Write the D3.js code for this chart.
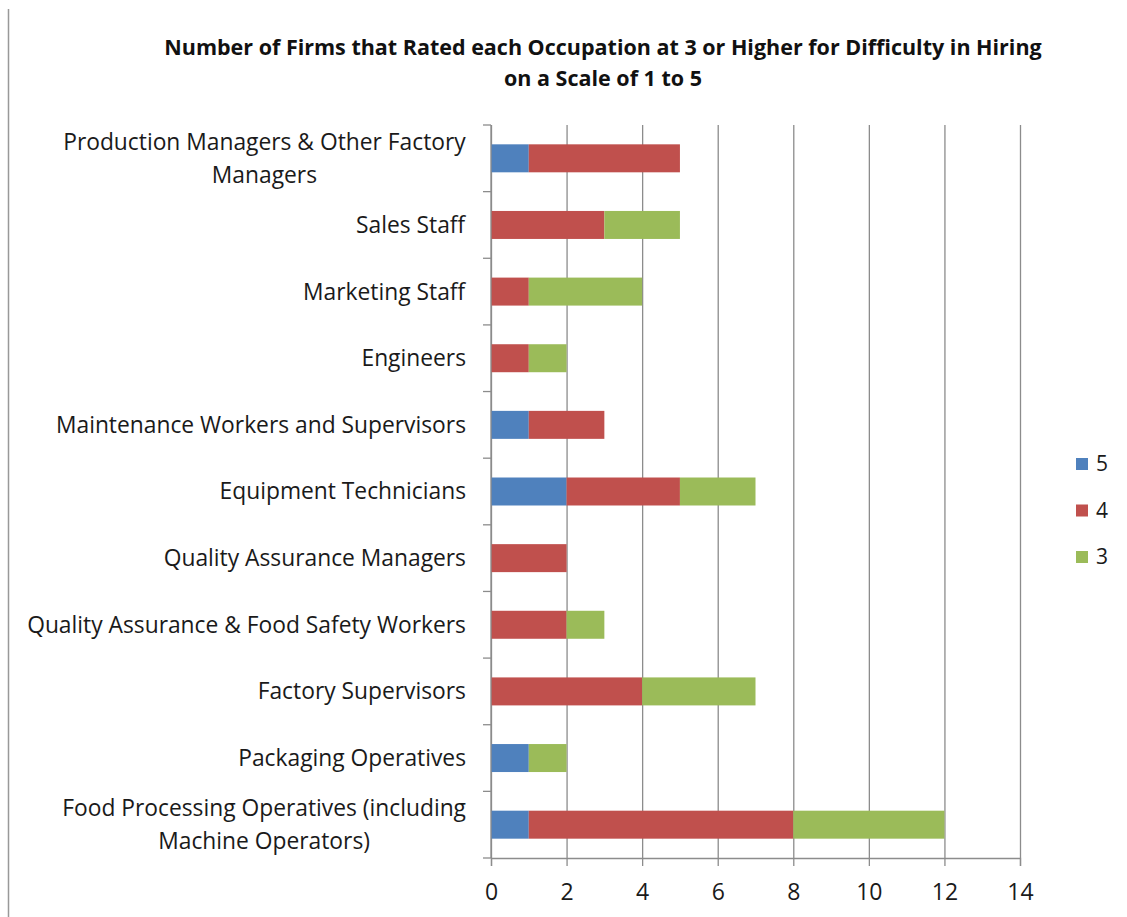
<!DOCTYPE html>
<html lang="en">
<head>
  <meta charset="UTF-8">
  <title>Difficulty in Hiring</title>
  <script src="https://d3js.org/d3.v7.min.js"></script>
  <style>
    body { margin: 0; background: #fff; font-family: 'Open Sans', sans-serif; }
    .grid line { stroke: #8c8c8c; stroke-width: 1.3; }
    .grid path { display: none; }
    .axis path, .axis line { stroke: #8c8c8c; stroke-width: 1.3; }
    .axis text { fill: #1a1a1a; font-size: 23px; font-family: 'Open Sans', sans-serif; }
  </style>
</head>
<body>
  <svg width="1127" height="917"></svg>
  <script>
    const categories = [
      ['Production Managers & Other Factory', 'Managers'],
      ['Sales Staff'],
      ['Marketing Staff'],
      ['Engineers'],
      ['Maintenance Workers and Supervisors'],
      ['Equipment Technicians'],
      ['Quality Assurance Managers'],
      ['Quality Assurance & Food Safety Workers'],
      ['Factory Supervisors'],
      ['Packaging Operatives'],
      ['Food Processing Operatives (including', 'Machine Operators)']
    ];
    const seriesNames = ['5', '4', '3'];
    const rating5 = [1, 0, 0, 0, 1, 2, 0, 0, 0, 1, 1];
    const rating4 = [4, 3, 1, 1, 2, 3, 2, 2, 4, 0, 7];
    const rating3 = [0, 2, 3, 1, 0, 2, 0, 1, 3, 1, 4];
    const xTicks = [0, 2, 4, 6, 8, 10, 12, 14];
    const colors = ['#4f81bd', '#c0504d', '#9bbb59'];

    const svg = d3.select('svg');
    const margin = { top: 125, left: 491, right: 107, bottom: 59 };
    const width = 1127 - margin.left - margin.right;
    const height = 917 - margin.top - margin.bottom;

    // left frame line
    svg.append('line')
      .attr('x1', 8.5).attr('x2', 8.5).attr('y1', 9).attr('y2', 917)
      .attr('stroke', '#999').attr('stroke-width', 1.5);

    // title
    const title = svg.append('text')
      .attr('x', 603).attr('y', 55)
      .attr('text-anchor', 'middle')
      .style('font-weight', 'bold').style('font-size', '21.5px').style('fill', '#111');
    title.append('tspan').attr('x', 603).text('Number of Firms that Rated each Occupation at 3 or Higher for Difficulty in Hiring');
    title.append('tspan').attr('x', 603).attr('dy', 31).text('on a Scale of 1 to 5');

    const g = svg.append('g').attr('transform', `translate(${margin.left},${margin.top})`);

    const x = d3.scaleLinear().domain([0, 14]).range([0, width]);
    const y = d3.scaleBand()
      .domain(d3.range(categories.length))
      .range([0, height])
      .paddingInner(0.58).paddingOuter(0.29);

    // vertical gridlines
    g.append('g').attr('class', 'grid')
      .call(d3.axisTop(x).tickValues(xTicks).tickSize(-height).tickFormat(''));

    // stacked data
    const rows = categories.map((c, i) => ({ i: i, '5': rating5[i], '4': rating4[i], '3': rating3[i] }));
    const stack = d3.stack().keys(seriesNames)(rows);

    g.selectAll('.series')
      .data(stack)
      .enter().append('g')
      .attr('fill', (d, k) => colors[k])
      .selectAll('rect')
      .data(d => d)
      .enter().append('rect')
      .attr('x', d => x(d[0]))
      .attr('y', d => y(d.data.i))
      .attr('width', d => x(d[1]) - x(d[0]))
      .attr('height', y.bandwidth());

    // x axis
    g.append('g').attr('class', 'axis')
      .attr('transform', `translate(0,${height})`)
      .call(d3.axisBottom(x).tickValues(xTicks).tickSize(8).tickSizeOuter(8).tickPadding(18));

    // y axis line with ticks at category boundaries
    const yAxis = g.append('g').attr('class', 'axis');
    yAxis.append('line').attr('x1', 0).attr('x2', 0).attr('y1', 0).attr('y2', height);
    const bounds = d3.range(categories.length + 1).map(k => k * y.step());
    yAxis.selectAll('.tk')
      .data(bounds)
      .enter().append('line')
      .attr('x1', -8).attr('x2', 0)
      .attr('y1', d => d).attr('y2', d => d);

    // category labels
    const labelX = -25;
    categories.forEach((lines, i) => {
      const cy = y(i) + y.bandwidth() / 2;
      const t = g.append('text')
        .attr('text-anchor', 'middle')
        .style('font-size', '22.8px').style('fill', '#1a1a1a');
      lines.forEach((line, j) => {
        t.append('tspan').attr('x', 0).attr('y', cy + (j - (lines.length - 1) / 2) * 33).attr('dy', '0.35em').text(line);
      });
      // right align block, center lines within it
      const w = t.node().getBBox().width;
      t.attr('transform', `translate(${labelX - w / 2},0)`);
    });

    // legend
    const legend = svg.append('g').attr('transform', 'translate(1076,464)');
    seriesNames.forEach((s, k) => {
      const row = legend.append('g').attr('transform', `translate(0,${k * 46.5})`);
      row.append('rect').attr('x', 0).attr('y', -6).attr('width', 12).attr('height', 12).attr('fill', colors[k]);
      row.append('text').attr('x', 20).attr('y', 0).attr('dy', '0.35em')
        .style('font-size', '21px').style('fill', '#1a1a1a').text(s);
    });
  </script>
</body>
</html>
